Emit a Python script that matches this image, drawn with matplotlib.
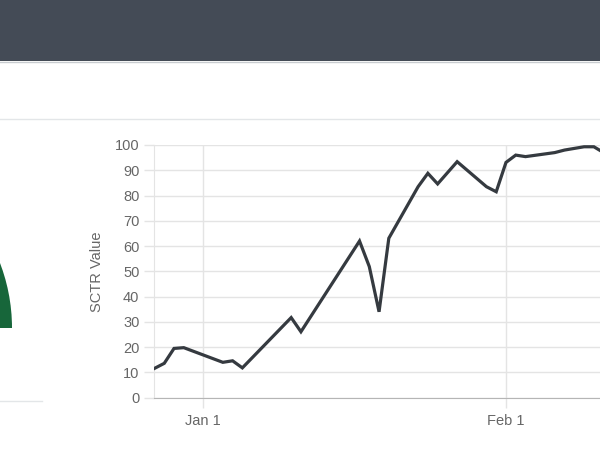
import matplotlib.pyplot as plt
import matplotlib.dates as mdates
from matplotlib.patches import Rectangle, Wedge
import datetime as dt

plt.rcParams['font.family'] = ['Liberation Sans', 'DejaVu Sans']

# SCTR values (day offset from Jan 1)
day_offsets = [-5, -4, -3, -2, 2, 3, 4, 9, 10, 16, 17, 18, 19, 22, 23, 24, 26,
               29, 30, 31, 32, 33, 36, 37, 39, 40, 41]
sctr_values = [11.6, 13.6, 19.5, 19.8, 14.0, 14.6, 11.8, 31.7, 26.1, 62.0, 51.9,
               34.0, 63.1, 83.5, 88.8, 84.6, 93.4, 83.5, 81.5, 93.1, 96.0, 95.4,
               97.0, 98.0, 99.3, 99.3, 97.0]
y_ticks = list(range(0, 101, 10))

base = dt.datetime(2023, 1, 1)
dates = [base + dt.timedelta(days=d) for d in day_offsets]

W, H = 600, 450
fig = plt.figure(figsize=(6, 4.5), dpi=100)
fig.patch.set_facecolor('white')

# page background: header bar, divider lines, part of gauge
bg = fig.add_axes([0, 0, 1, 1])
bg.set_xlim(0, W)
bg.set_ylim(H, 0)
bg.axis('off')
bg.add_patch(Rectangle((0, 0), W, 61, color='#444b56', lw=0))
bg.plot([0, W], [61.5, 61.5], color='#c8ccd0', lw=1)
bg.plot([0, W], [118.5, 118.5], color='#e3e6e8', lw=1)
bg.plot([0, 42], [401, 401], color='#e3e6e8', lw=1)
bg.add_patch(Wedge((-170, 328), 182, 180, 360, width=60, color='#17663a', lw=0))

# chart area
x0, x1 = 154, 600
ytop, ybot = 145, 397.7
ax = fig.add_axes([x0 / W, (H - ybot) / H, (x1 - x0) / W, (ybot - ytop) / H])
ax.set_facecolor('none')
ax.plot(dates, sctr_values, color='#353a40', lw=2.3, solid_joinstyle='miter',
        clip_on=True, zorder=3)

ax.set_xlim(base + dt.timedelta(days=-5.05), base + dt.timedelta(days=40.63))
ax.set_ylim(0, 100)
ax.set_yticks(y_ticks)
ax.xaxis.set_major_locator(mdates.MonthLocator())
ax.xaxis.set_major_formatter(mdates.DateFormatter('%b %-d'))

ax.grid(True, color='#e4e4e4', lw=1)
ax.tick_params(axis='both', colors='#e4e4e4', labelcolor='#666666',
               labelsize=10.5, length=7, width=1)
ax.tick_params(axis='x', pad=5)
for s in ['top', 'right']:
    ax.spines[s].set_visible(False)
ax.spines['left'].set_color('#e4e4e4')
ax.spines['bottom'].set_color('#b5b5b5')
ax.set_ylabel('SCTR Value', color='#666666', fontsize=10.5, labelpad=8)

fig.savefig('out.png', dpi=100)
